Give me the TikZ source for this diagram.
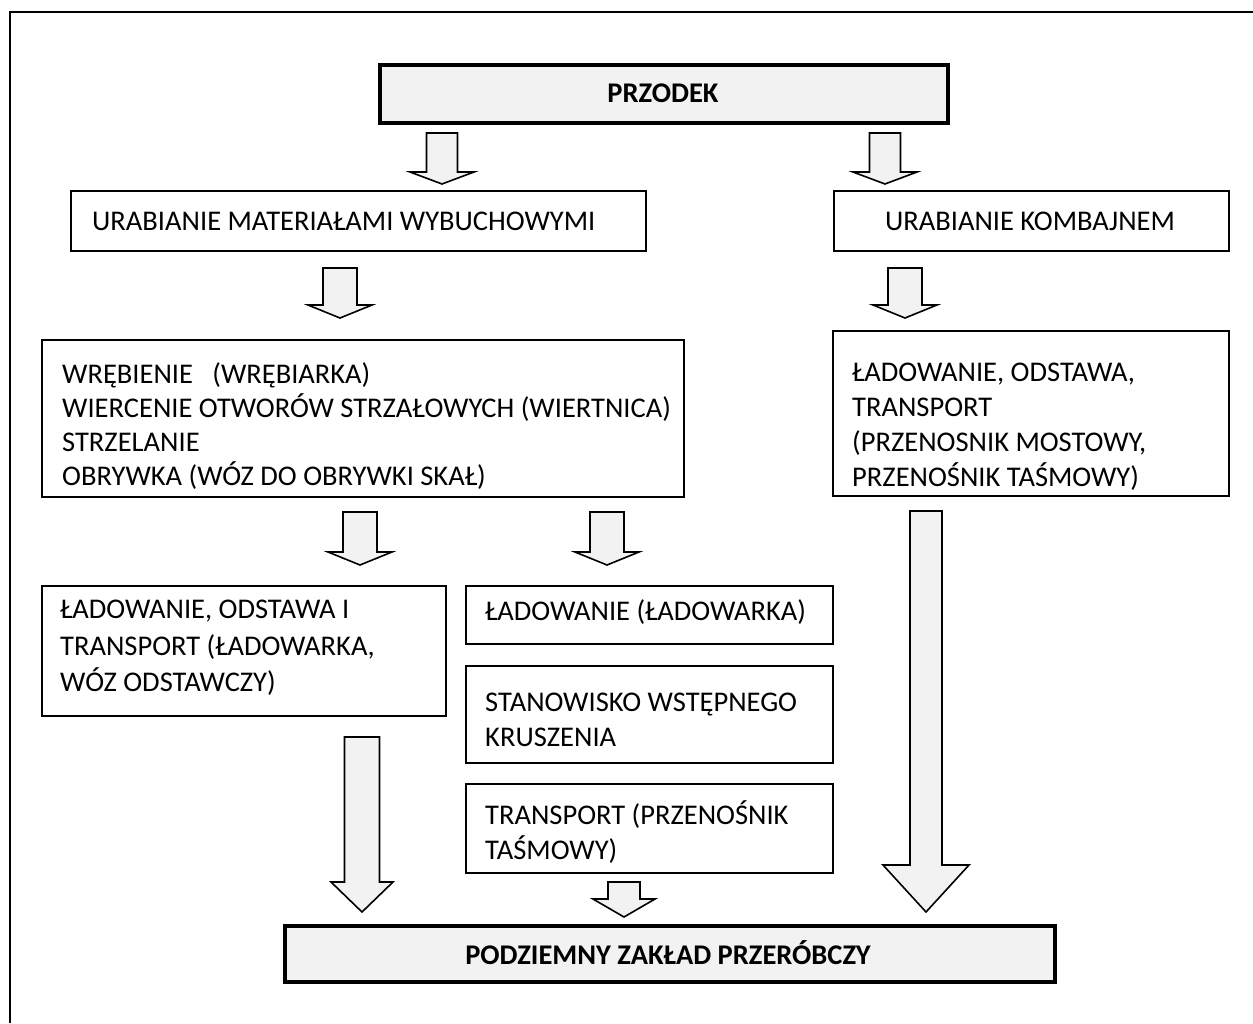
\documentclass[tikz,border=0pt]{standalone}
\usepackage{fontspec}
\setmainfont{Carlito}
\definecolor{boxgray}{HTML}{F2F2F2}
\tikzset{
  plainbox/.style={draw=black, line width=1.6pt, fill=white, inner sep=0pt, anchor=north west},
  titlebox/.style={draw=black, line width=4pt, fill=boxgray, inner sep=0pt, anchor=north west},
  blockarr/.style={draw=black, line width=1.6pt, fill=boxgray, line join=miter},
  txt/.style={font=\fontsize{28.5}{35}\selectfont, align=left, anchor=west, inner sep=0pt},
  bold/.style={font=\bfseries\fontsize{28.5}{32}\selectfont, inner sep=0pt}
}
% #1 centre x, #2 top y, #3 head base y, #4 tip y, #5 shaft half width, #6 head half width
\newcommand\myblockarrow[6]{%
  \draw[blockarr] ({#1-#5},#2) -- ({#1+#5},#2) -- ({#1+#5},#3) -- ({#1+#6},#3) -- (#1,#4) -- ({#1-#6},#3) -- ({#1-#5},#3) -- cycle;}
\begin{document}
\begin{tikzpicture}[x=1pt,y=-1pt]
\useasboundingbox (0,0) rectangle (1253,1023);
\fill[white] (0,0) rectangle (1253,1023);
% outer frame (partly cropped)
\draw[line width=2pt] (10,1023) -- (10,12) -- (1253,12);

% title boxes
\node[titlebox, minimum width=568pt, minimum height=58pt] (przodek) at (378,63) {};
\node[bold] (przodektxt) at (663,93) {PRZODEK};
\node[titlebox, minimum width=770pt, minimum height=56pt] (zaklad) at (283,924) {};
\node[bold] (zakladtxt) at (668,953) {PODZIEMNY ZAKŁAD PRZERÓBCZY};

% boxes
\node[plainbox, minimum width=575pt, minimum height=60pt] (urab1) at (70,190) {};
\node[plainbox, minimum width=395pt, minimum height=60pt] (urab2) at (833,190) {};
\node[plainbox, minimum width=642pt, minimum height=157pt] (wreb) at (41,339) {};
\node[plainbox, minimum width=396pt, minimum height=165pt] (ladR) at (832,330) {};
\node[plainbox, minimum width=404pt, minimum height=130pt] (ladL) at (41,585) {};
\node[plainbox, minimum width=367pt, minimum height=58pt] (ladM) at (465,585) {};
\node[plainbox, minimum width=367pt, minimum height=97pt] (stan) at (465,665) {};
\node[plainbox, minimum width=367pt, minimum height=89pt] (trans) at (465,783) {};

% texts
\node[txt] (urab1txt) at (92,221) {URABIANIE MATERIAŁAMI WYBUCHOWYMI};
\node[txt, anchor=center] (urab2txt) at (1030,221) {URABIANIE KOMBAJNEM};
\node[txt, font=\fontsize{28.5}{34}\selectfont] (wrebtxt) at (62,426) {WRĘBIENIE\ \ \ (WRĘBIARKA)\\WIERCENIE OTWORÓW STRZAŁOWYCH (WIERTNICA)\\STRZELANIE\\OBRYWKA (WÓZ DO OBRYWKI SKAŁ)};
\node[txt] (ladRtxt) at (852,427) {ŁADOWANIE, ODSTAWA,\\TRANSPORT\\(PRZENOSNIK MOSTOWY,\\PRZENOŚNIK TAŚMOWY)};
\node[txt, font=\fontsize{28.5}{36.5}\selectfont] (ladLtxt) at (60,648) {ŁADOWANIE, ODSTAWA I\\TRANSPORT (ŁADOWARKA,\\WÓZ ODSTAWCZY)};
\node[txt] (ladMtxt) at (485,612) {ŁADOWANIE (ŁADOWARKA)};
\node[txt] (stantxt) at (485,720) {STANOWISKO WSTĘPNEGO\\KRUSZENIA};
\node[txt] (transtxt) at (485,832) {TRANSPORT (PRZENOŚNIK\\TAŚMOWY)};

% block arrows
\myblockarrow{442}{133}{172}{184}{15.5}{32}
\myblockarrow{885}{133}{172}{184}{15.5}{32}
\myblockarrow{340}{268}{305}{318}{17}{32}
\myblockarrow{905}{268}{305}{318}{17}{32}
\myblockarrow{360}{512}{552}{565}{17}{32}
\myblockarrow{607}{512}{552}{565}{17}{32}
\myblockarrow{362}{737}{882}{912}{17.5}{31}
\myblockarrow{624}{882}{899}{917}{16}{31}
\myblockarrow{926}{511}{865}{912}{16}{43}
\end{tikzpicture}
\end{document}
